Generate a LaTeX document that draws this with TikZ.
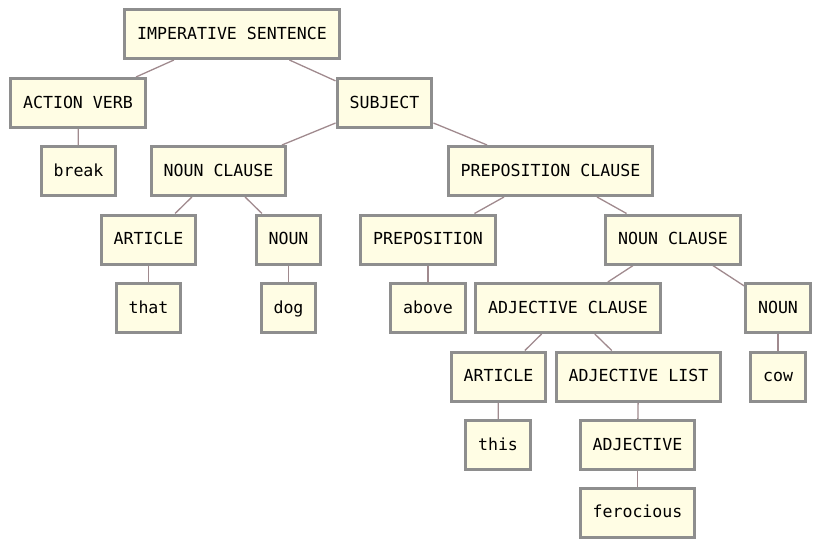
\documentclass[tikz,border=0pt]{standalone}
\usepackage{fontspec}
\setmonofont{DejaVu Sans Mono}
\usepackage{xcolor}
\usepackage{tikz}
\usetikzlibrary{backgrounds}
\definecolor{boxfill}{HTML}{FFFDE4}
\definecolor{boxline}{HTML}{8E8E8E}
\definecolor{linkcol}{HTML}{A08A8E}

\begin{document}
\begin{tikzpicture}[
    x=1pt,
    y=-1pt,
    word/.style={draw=boxline, fill=boxfill, line width=3pt, rectangle,
        inner xsep=12.5pt, inner ysep=0pt, minimum height=49pt,
        text height=13pt, text depth=3pt,
        font=\ttfamily\fontsize{16.6}{20}\selectfont},
    link/.style={draw=linkcol, line width=1.3pt}
]
\useasboundingbox (0,0) rectangle (817,544);
% Top levels
\node[word] (sent) at (232,34) {IMPERATIVE SENTENCE};
\node[word] (verb) at (78,103) {ACTION VERB};
\node[word] (subj) at (384.5,103) {SUBJECT};
\node[word] (brk) at (78.5,171) {break};
\node[word] (ncl) at (218.5,171) {NOUN CLAUSE};
\node[word] (pcl) at (550.5,171) {PREPOSITION CLAUSE};
% Third level
\node[word] (art) at (148.5,239.5) {ARTICLE};
\node[word] (noun) at (288.5,239.5) {NOUN};
\node[word] (prep) at (428,239.5) {PREPOSITION};
\node[word] (nclb) at (673,239.5) {NOUN CLAUSE};
% Fourth level
\node[word] (that) at (148.5,308) {that};
\node[word] (dog) at (288.5,308) {dog};
\node[word] (above) at (428,308) {above};
\node[word] (adjcl) at (568,308) {ADJECTIVE CLAUSE};
\node[word] (nounb) at (778,308) {NOUN};
% Lower levels
\node[word] (artb) at (498.5,376.5) {ARTICLE};
\node[word] (adjl) at (638.5,376.5) {ADJECTIVE LIST};
\node[word] (cow) at (778,376.5) {cow};
\node[word] (this) at (498,445) {this};
\node[word] (adj) at (637.5,445) {ADJECTIVE};
\node[word] (fer) at (637.5,512.5) {ferocious};
% Links
\begin{scope}[on background layer]
\foreach \a/\b in {sent/verb, sent/subj, verb/brk, subj/ncl, subj/pcl,
    ncl/art, ncl/noun, pcl/prep, pcl/nclb, art/that, noun/dog, prep/above,
    nclb/adjcl, nclb/nounb, adjcl/artb, adjcl/adjl, nounb/cow, artb/this,
    adjl/adj, adj/fer} {
    \draw[link] (\a) -- (\b);
}
\end{scope}
\end{tikzpicture}
\end{document}
